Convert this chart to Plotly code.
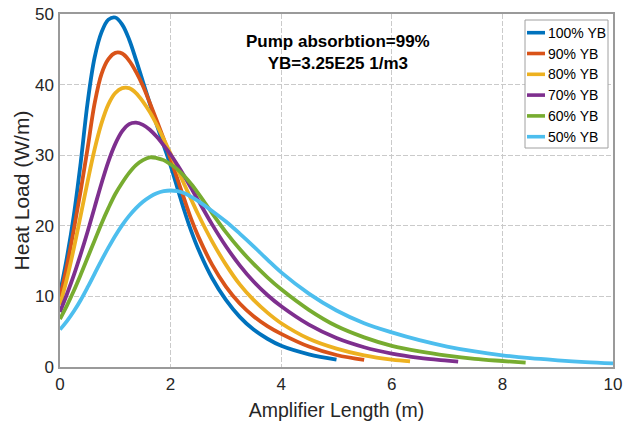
import plotly.graph_objects as go

# ---------------- data ----------------
series_names = ["100% YB", "90% YB", "80% YB", "70% YB", "60% YB", "50% YB"]
series_colors = ["#0072BD", "#D95319", "#EDB120", "#7E2F8E", "#77AC30", "#4DBEEE"]

x_100 = [0, 0.125, 0.25, 0.375, 0.5, 0.625, 0.75, 0.875, 1.0, 1.125, 1.25, 1.375, 1.5, 1.625, 1.75, 1.875,
         2.0, 2.125, 2.25, 2.375, 2.5, 2.75, 3.0, 3.25, 3.5, 3.75, 4.0, 4.5, 5.0]
y_100 = [10.5, 15.5, 21.5, 29.0, 37.5, 43.8, 47.4, 49.2, 49.5, 48.5, 46.4, 43.5, 40.4, 37.3, 34.3, 31.4,
         28.5, 25.3, 22.1, 19.2, 16.7, 12.6, 9.5, 7.1, 5.3, 4.0, 3.0, 1.8, 1.05]

x_90 = [0, 0.125, 0.25, 0.375, 0.5, 0.625, 0.75, 0.875, 1.0, 1.125, 1.25, 1.375, 1.5, 1.625, 1.75, 1.875,
        2.0, 2.125, 2.25, 2.375, 2.5, 2.75, 3.0, 3.25, 3.5, 3.75, 4.0, 4.5, 5.0, 5.5]
y_90 = [9.9, 14.3, 19.5, 25.0, 31.0, 37.3, 41.5, 43.6, 44.5, 44.4, 43.4, 41.8, 39.8, 37.4, 34.9, 32.3,
        29.5, 26.6, 23.7, 20.9, 18.5, 14.5, 11.4, 9.0, 7.2, 5.8, 4.7, 2.9, 1.7, 1.0]

x_80 = [0, 0.125, 0.25, 0.375, 0.5, 0.625, 0.75, 0.875, 1.0, 1.125, 1.25, 1.375, 1.5, 1.625, 1.75, 1.875,
        2.0, 2.125, 2.25, 2.375, 2.5, 2.75, 3.0, 3.25, 3.5, 3.75, 4.0, 4.5, 5.0, 5.5, 6.0, 6.33]
y_80 = [8.8, 12.5, 16.8, 21.5, 26.3, 30.8, 34.5, 37.2, 38.8, 39.5, 39.5, 38.8, 37.6, 36.1, 34.3, 32.3,
        30.2, 28.0, 25.8, 23.7, 21.6, 17.8, 14.5, 11.7, 9.5, 7.7, 6.2, 4.0, 2.6, 1.65, 1.05, 0.8]

x_70 = [0, 0.125, 0.25, 0.375, 0.5, 0.625, 0.75, 0.875, 1.0, 1.125, 1.25, 1.375, 1.5, 1.625, 1.75, 1.875,
        2.0, 2.125, 2.25, 2.375, 2.5, 2.75, 3.0, 3.25, 3.5, 3.75, 4.0, 4.5, 5.0, 5.5, 6.0, 6.5, 7.0, 7.2]
y_70 = [7.8, 10.3, 13.0, 16.0, 19.2, 22.6, 26.0, 29.1, 31.6, 33.4, 34.4, 34.6, 34.3, 33.6, 32.6, 31.4,
        30.1, 28.6, 27.0, 25.3, 23.6, 20.2, 17.1, 14.4, 12.1, 10.2, 8.6, 6.0, 4.1, 2.8, 1.9, 1.3, 0.9, 0.75]

x_60 = [0, 0.125, 0.25, 0.375, 0.5, 0.625, 0.75, 0.875, 1.0, 1.125, 1.25, 1.375, 1.5, 1.625, 1.75, 1.875,
        2.0, 2.125, 2.25, 2.375, 2.5, 2.75, 3.0, 3.25, 3.5, 3.75, 4.0, 4.5, 5.0, 5.5, 6.0, 6.5, 7.0, 7.5,
        8.0, 8.42]
y_60 = [6.8, 8.7, 10.8, 13.1, 15.5, 17.9, 20.3, 22.5, 24.5, 26.1, 27.5, 28.6, 29.3, 29.7, 29.6, 29.3,
        28.7, 28.0, 27.0, 25.9, 24.6, 21.8, 19.1, 16.7, 14.6, 12.7, 11.0, 8.1, 5.8, 4.2, 3.0, 2.2, 1.6, 1.15,
        0.85, 0.62]

x_50 = [0, 0.125, 0.25, 0.375, 0.5, 0.625, 0.75, 0.875, 1.0, 1.125, 1.25, 1.375, 1.5, 1.625, 1.75, 1.875,
        2.0, 2.125, 2.25, 2.375, 2.5, 2.75, 3.0, 3.25, 3.5, 3.75, 4.0, 4.5, 5.0, 5.5, 6.0, 6.5, 7.0, 7.5,
        8.0, 8.5, 9.0, 9.5, 10.0]
y_50 = [5.3, 6.5, 7.9, 9.5, 11.3, 13.2, 15.1, 16.9, 18.6, 20.1, 21.4, 22.5, 23.4, 24.1, 24.6, 24.9,
        25.0, 24.9, 24.6, 24.1, 23.5, 22.1, 20.6, 18.9, 17.1, 15.2, 13.4, 10.4, 8.0, 6.2, 4.9, 3.8, 2.9, 2.2,
        1.66, 1.25, 0.95, 0.7, 0.52]

x_ticks = [0, 2, 4, 6, 8, 10]
y_ticks = [0, 10, 20, 30, 40, 50]

x_title = "Amplifier Length (m)"
y_title = "Heat Load (W/m)"
note_lines = ["Pump absorbtion=99%", "YB=3.25E25 1/m3"]

all_x = [x_100, x_90, x_80, x_70, x_60, x_50]
all_y = [y_100, y_90, y_80, y_70, y_60, y_50]

# ---------------- figure ----------------
FONT = "Liberation Sans, Arial, Helvetica, sans-serif"
W, H = 625, 427
# plot area in page pixels: x 60..613, y 14..366.7
ML, MR, MT, MB = 60, 12, 14, 60
PW, PH = W - ML - MR, H - MT - MB


def px2paper_x(px):
    return (px - ML) / PW


def px2paper_y(py):
    return (H - MB - py) / PH


fig = go.Figure()
for xs, ys, name, col in zip(all_x, all_y, series_names, series_colors):
    fig.add_trace(go.Scatter(
        x=xs, y=ys, mode="lines", name=name,
        line=dict(color=col, width=3.8, shape="spline", smoothing=1.0),
        showlegend=False,
    ))

axis_common = dict(
    showline=True, linecolor="#9a9a9a", linewidth=1.5, mirror=True,
    showgrid=True, gridcolor="#cacaca", gridwidth=1, griddash="5px,2px",
    zeroline=False, ticks="", automargin=False, ticklabeloverflow="allow",
    tickfont=dict(family=FONT, size=17, color="#262626"),
)

fig.update_xaxes(
    range=[0, 10], tickvals=x_ticks, ticktext=[str(t) for t in x_ticks],
    title=dict(text=x_title, font=dict(family=FONT, size=19.5, color="#262626"), standoff=10),
    ticklabelstandoff=1,
    **axis_common,
)
fig.update_yaxes(
    range=[0, 50], tickvals=y_ticks, ticktext=[str(t) for t in y_ticks],
    title=dict(text=y_title, font=dict(family=FONT, size=21, color="#262626"), standoff=0),
    ticklabelstandoff=1,
    **axis_common,
)

# annotation text
fig.add_annotation(
    xref="paper", yref="paper", x=px2paper_x(338), y=px2paper_y(52),
    text="<b>" + "<br>".join(note_lines) + "</b>", showarrow=False,
    xanchor="center", yanchor="middle", align="center",
    font=dict(family=FONT, size=17, color="#000000"),
)

# legend box (drawn)
fig.add_shape(type="rect", xref="paper", yref="paper",
              x0=px2paper_x(525), x1=px2paper_x(608),
              y0=px2paper_y(148), y1=px2paper_y(20),
              line=dict(color="#a0a0a0", width=1), fillcolor="white", layer="above")
for i, (name, col) in enumerate(zip(series_names, series_colors)):
    py = 32.7 + i * 20.8
    fig.add_shape(type="line", xref="paper", yref="paper",
                  x0=px2paper_x(527), x1=px2paper_x(545),
                  y0=px2paper_y(py), y1=px2paper_y(py),
                  line=dict(color=col, width=3.6), layer="above")
    fig.add_annotation(xref="paper", yref="paper", x=px2paper_x(546), y=px2paper_y(py),
                       text=name, showarrow=False, xanchor="left", yanchor="middle",
                       font=dict(family=FONT, size=14, color="#000000"))

fig.update_layout(
    width=W, height=H,
    margin=dict(l=ML, r=MR, t=MT, b=MB, pad=0, autoexpand=False),
    plot_bgcolor="white", paper_bgcolor="white",
    font=dict(family=FONT),
    showlegend=False,
)

# remove the browser's default 8px body margin so the figure fills the window
fig.write_html(
    "out.html",
    config={"displayModeBar": False},
    post_script="document.body.style.margin='0px';document.body.style.overflow='hidden';",
)
